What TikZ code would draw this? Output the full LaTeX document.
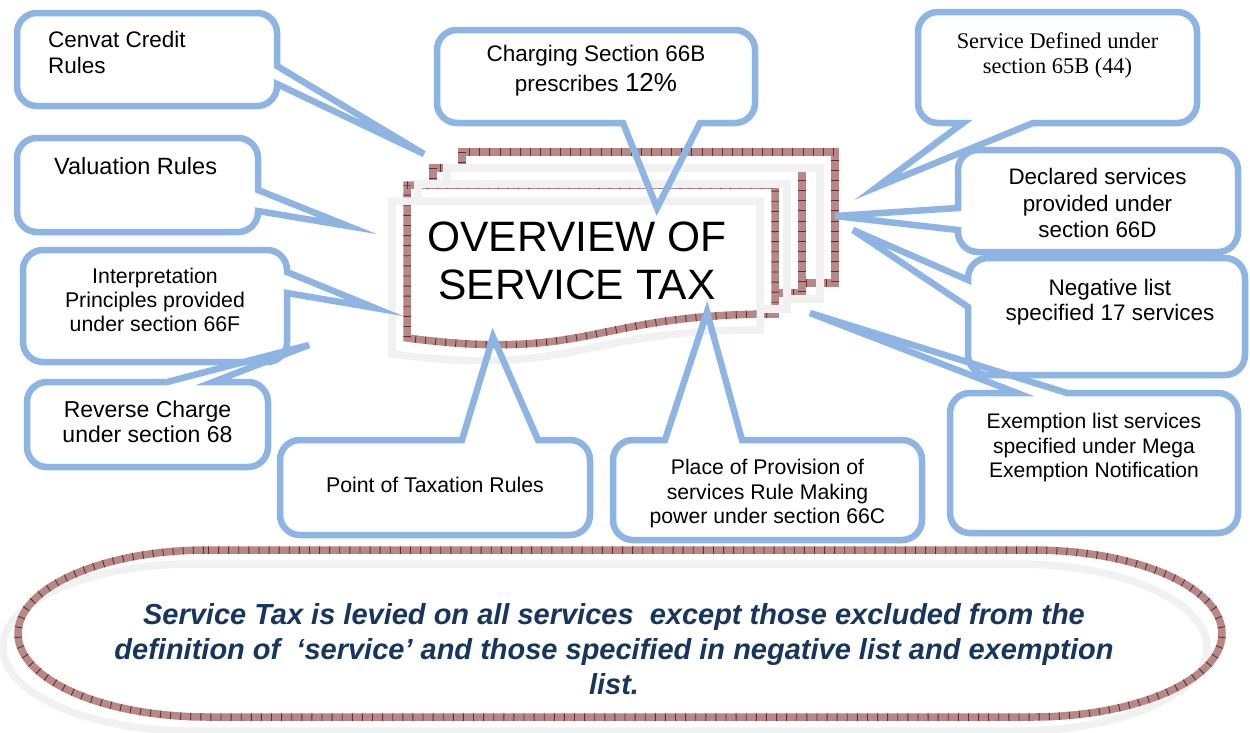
\documentclass[tikz,border=0pt]{standalone}
\usepackage{fontspec}
\setmainfont{Liberation Sans}
\newfontfamily\timesfont{Liberation Serif}
\definecolor{cblue}{RGB}{141,180,227}
\definecolor{bandc}{RGB}{182,136,136}
\definecolor{tickc}{RGB}{112,42,42}
\definecolor{grayc}{RGB}{241,241,241}
\definecolor{navy}{RGB}{23,54,93}
\newcommand{\fs}[2]{\fontsize{#1}{#2}\selectfont}
\begin{document}
\begin{tikzpicture}[x=1pt,y=-1pt,
  callout/.style={draw=cblue,line width=6.5pt},
  rc/.style={rounded corners=20pt},
  redband/.style={draw=bandc,line width=7.5pt,postaction={draw=tickc,line width=7.5pt,dash pattern=on 0.9pt off 9.2pt}},
  grayl/.style={draw=grayc,line width=7.5pt},
  ctext/.style={anchor=south,text depth=0pt,inner sep=0pt,align=center}]
\useasboundingbox (0,0) rectangle (1250,732);
\fill[white] (0,0) rectangle (1250,732);
% document stack (patterned)
\path[redband,fill=white] (462,152) rectangle (835,283);
\path[redband,fill=white] (433,168) rectangle (802,293);
\path[redband,fill=white] (407,185) -- (775,185) -- (775,314) .. controls (591,314) and (591,362) .. (407,338) -- cycle;
% document stack (gray)
\draw[grayl] (447,186) -- (447,168) -- (820,168) -- (820,299) -- (785,299);
\draw[grayl] (418,203) -- (418,184) -- (787,184) -- (787,309) -- (758,309);
\draw[grayl] (392,201) -- (760,201) -- (760,330) .. controls (576,330) and (576,378) .. (392,354) -- cycle;
\node[ctext,font=\fs{42.5}{48}] (title) at (577,300) {OVERVIEW OF\\SERVICE TAX};
% bottom rounded band
\draw[grayl] (193,564) -- (1017,564) arc[start angle=90,end angle=-90,x radius=190pt,y radius=83.5pt] -- (193,731) arc[start angle=270,end angle=90,x radius=190pt,y radius=83.5pt] -- cycle;
\draw[redband] (208,550) -- (1032,550) arc[start angle=90,end angle=-90,x radius=190pt,y radius=83.5pt] -- (208,717) arc[start angle=270,end angle=90,x radius=190pt,y radius=83.5pt] -- cycle;
\node[ctext,font=\fs{29}{35}\bfseries\itshape,text=navy] (summary) at (614,695)
  {Service Tax is levied on all services~ except those excluded from the\\definition of~ ‘service’ and those specified in negative list and exemption\\list.};
% tips
\coordinate (tA) at (424,154);
\coordinate (tB) at (348,226);
\coordinate (tC) at (375,308);
\coordinate (tD) at (309,345);
\coordinate (tE) at (493,337);
\coordinate (tF) at (707,312);
\coordinate (tG) at (657,208);
\coordinate (tH) at (877,187);
\coordinate (tI) at (835,216);
\coordinate (tJ) at (853,230);
\coordinate (tK) at (810,313);
% callouts
\draw[callout] (17,60) [rc] -- (17,13) -- (277,13) [sharp corners] -- (277,66) -- (tA) -- (277,84) [rc] -- (277,106) -- (17,106) -- cycle;
\draw[callout] (17,185) [rc] -- (17,138) -- (258,138) [sharp corners] -- (258,190) -- (tB) -- (258,211) [rc] -- (258,232) -- (17,232) -- cycle;
\draw[callout] (23,305) [rc] -- (23,250) -- (287,250) [sharp corners] -- (287,272) -- (tC) -- (287,293) [rc] -- (287,362) -- (23,362) -- cycle;
\draw[callout] (27,425) [rc] -- (27,382) [sharp corners] -- (167,382) -- (tD) -- (213,382) [rc] -- (268,382) -- (268,467) -- (27,467) -- cycle;
\draw[callout] (280,490) [rc] -- (280,440) [sharp corners] -- (462,440) -- (tE) -- (538,440) [rc] -- (590,440) -- (590,535) -- (280,535) -- cycle;
\draw[callout] (613,490) [rc] -- (613,440) [sharp corners] -- (665,440) -- (tF) -- (742,440) [rc] -- (922,440) -- (922,540) -- (613,540) -- cycle;
\draw[callout] (437,75) [rc] -- (437,30) -- (755,30) -- (755,123) [sharp corners] -- (700,123) -- (tG) -- (623,123) [rc] -- (437,123) -- cycle;
\draw[callout] (918,65) [rc] -- (918,12) -- (1197,12) -- (1197,123) [sharp corners] -- (1033,123) -- (tH) -- (963,123) [rc] -- (918,123) -- cycle;
\draw[callout] (1098,150) [rc] -- (1238,150) -- (1238,252) -- (958,252) [sharp corners] -- (958,230) -- (tI) -- (958,208) [rc] -- (958,150) -- cycle;
\draw[callout] (1105,258) [rc] -- (1245,258) -- (1245,375) -- (968,375) [sharp corners] -- (968,307) -- (tJ) -- (968,280) [rc] -- (968,258) -- cycle;
\draw[callout] (950,460) [rc] -- (950,393) [sharp corners] -- (1017,393) -- (tK) -- (1067,393) [rc] -- (1238,393) -- (1238,533) -- (950,533) -- cycle;
% callout texts
\node[ctext,anchor=south west,align=left,font=\fs{22.5}{26}] (cenvat) at (48,74) {Cenvat Credit\\Rules};
\node[ctext,anchor=south west,font=\fs{23.5}{26}] (valuation) at (54,175) {Valuation Rules};
\node[ctext,font=\fs{21.3}{24}] (interp) at (155,332) {Interpretation\\Principles provided\\under section 66F};
\node[ctext,font=\fs{23}{25}] (reverse) at (147.5,443) {Reverse Charge\\under section 68};
\node[ctext,font=\fs{21.3}{24}] (point) at (435,493) {Point of Taxation Rules};
\node[ctext,font=\fs{21.2}{24.5}] (place) at (767.5,524) {Place of Provision of\\services Rule Making\\power under section 66C};
\node[ctext,font=\fs{22.5}{30}] (charging) at (596,92) {Charging Section 66B\\prescribes {\fs{26}{30}12\%}};
\node[ctext,font=\timesfont\fs{22.4}{25}] (defined) at (1057.5,74) {Service Defined under\\section 65B (44)};
\node[ctext,font=\fs{22.4}{26.5}] (declared) at (1097.5,238) {Declared services\\provided under\\section 66D};
\node[ctext,font=\fs{22.5}{25}] (negative) at (1110,321) {Negative list\\specified 17 services};
\node[ctext,font=\fs{21.1}{24.5}] (exemption) at (1094,478) {Exemption list services\\specified under Mega\\Exemption Notification};
\end{tikzpicture}
\end{document}
